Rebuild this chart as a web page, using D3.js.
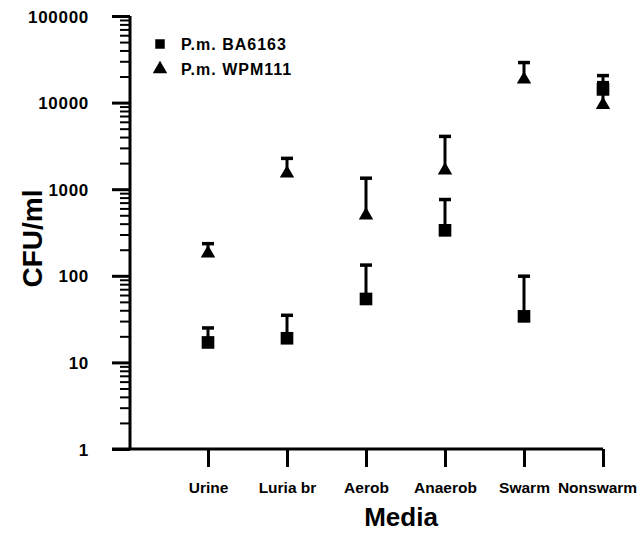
<!DOCTYPE html>
<html>
<head>
<meta charset="utf-8">
<script src="https://cdn.jsdelivr.net/npm/d3@7"></script>
<style>
  body { margin: 0; background: #fff; }
  text { font-family: "Liberation Sans", Arial, sans-serif; font-weight: bold; fill: #000; }
</style>
</head>
<body>
<div id="chart"></div>
<script>
const media = ["Urine", "Luria br", "Aerob", "Anaerob", "Swarm", "Nonswarm"];

// P.m. BA6163 (squares): mean and upper error bar
const ba6163 = [17, 19, 54, 335, 34, 14200];
const ba6163Top = [25, 35, 133, 760, 99, 20500];

// P.m. WPM111 (triangles)
const wpm111 = [182, 1520, 500, 1650, 18500, 9400];
const wpm111Top = [235, 2270, 1340, 4070, 29000, 17000];

const yMajor = [1, 10, 100, 1000, 10000, 100000];

const width = 642, height = 533;

const svg = d3
  .select("#chart")
  .append("svg")
  .attr("width", width)
  .attr("height", height);

const x = d3.scalePoint().domain(media).range([208, 603]);
const y = d3.scaleLog().domain([1, 100000]).range([449, 16]);

// minor ticks 2..9 in each decade
const yMinor = [];
yMajor.slice(0, -1).forEach((d) => {
  for (let k = 2; k <= 9; k++) yMinor.push(d * k);
});

// y axis
const yAxisMinor = svg
  .append("g")
  .attr("transform", "translate(130,0)")
  .call(d3.axisLeft(y).tickValues(yMinor).tickSize(10).tickFormat(""));
yAxisMinor.select(".domain").remove();
yAxisMinor.selectAll("line").attr("stroke", "#000").attr("stroke-width", 2);

const yAxis = svg
  .append("g")
  .attr("transform", "translate(130,0)")
  .call(
    d3.axisLeft(y).tickValues(yMajor).tickSize(18).tickPadding(23)
      .tickFormat(d3.format("d"))
  );
yAxis.select(".domain").attr("d", `M0,${y(1)}V${y(100000)}`).attr("stroke-width", 3);
yAxis.selectAll("line").attr("stroke-width", 3);
yAxis.selectAll("text").attr("font-size", 17).attr("letter-spacing", 0.7).attr("dy", "0.36em");

// x axis
const xAxis = svg
  .append("g")
  .attr("transform", `translate(0,${y(1)})`)
  .call(d3.axisBottom(x).tickSize(18).tickSizeOuter(0).tickPadding(15));
xAxis.select(".domain").attr("d", `M112,0H${x("Nonswarm")}`).attr("stroke-width", 3);
xAxis.selectAll("line").attr("stroke-width", 3);
xAxis.selectAll("text").attr("font-size", 15.5)
  .attr("dx", (d) => (d === "Nonswarm" ? -6 : 0));

// axis titles
svg.append("text")
  .attr("transform", `translate(42,${(y(1) + y(100000)) / 2 + 6}) rotate(-90)`)
  .attr("text-anchor", "middle")
  .attr("font-size", 28)
  .text("CFU/ml");

svg.append("text")
  .attr("x", 401)
  .attr("y", 526)
  .attr("text-anchor", "middle")
  .attr("font-size", 26)
  .text("Media");

// error bars (upper only)
function drawErrors(means, tops) {
  const g = svg.append("g");
  media.forEach((m, i) => {
    g.append("line")
      .attr("x1", x(m)).attr("x2", x(m))
      .attr("y1", y(means[i])).attr("y2", y(tops[i]))
      .attr("stroke", "#000").attr("stroke-width", 3);
    g.append("line")
      .attr("x1", x(m) - 6).attr("x2", x(m) + 6)
      .attr("y1", y(tops[i])).attr("y2", y(tops[i]))
      .attr("stroke", "#000").attr("stroke-width", 3.5);
  });
}
drawErrors(ba6163, ba6163Top);
drawErrors(wpm111, wpm111Top);

const square = d3.symbol().type(d3.symbolSquare).size(160);
const triangle = d3.symbol().type(d3.symbolTriangle).size(90);

svg.append("g")
  .selectAll("path")
  .data(ba6163)
  .join("path")
  .attr("d", square)
  .attr("transform", (d, i) => `translate(${x(media[i])},${y(d)})`)
  .attr("fill", "#000");

svg.append("g")
  .selectAll("path")
  .data(wpm111)
  .join("path")
  .attr("d", triangle)
  .attr("transform", (d, i) => `translate(${x(media[i])},${y(d)})`)
  .attr("fill", "#000");

// legend
const legend = svg.append("g").attr("transform", "translate(160,0)");
legend.append("path").attr("d", d3.symbol().type(d3.symbolSquare).size(90))
  .attr("transform", "translate(0,44)");
legend.append("text").attr("x", 21).attr("y", 50).attr("font-size", 16)
  .attr("letter-spacing", 1).text("P.m.  BA6163");
legend.append("path").attr("d", d3.symbol().type(d3.symbolTriangle).size(90))
  .attr("transform", "translate(0,69)");
legend.append("text").attr("x", 21).attr("y", 75).attr("font-size", 16)
  .attr("letter-spacing", 1).text("P.m.  WPM111");
</script>
</body>
</html>
